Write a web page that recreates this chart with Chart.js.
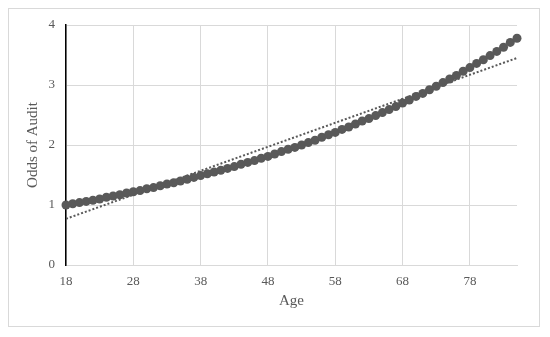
<!DOCTYPE html>
<html lang="en">
<head>
  <meta charset="UTF-8">
  <title>Odds of Audit by Age</title>
  <script src="https://cdn.jsdelivr.net/npm/chart.js"></script>
  <style>
    html, body { margin: 0; padding: 0; background: #fff; }
    #wrap { width: 550px; height: 337px; }
  </style>
</head>
<body>
  <div id="wrap"><canvas id="chart" width="550" height="337"></canvas></div>

  <script>
    // Ages 18..85, odds
    var ages = [18, 19, 20, 21, 22, 23, 24, 25, 26, 27, 28, 29, 30, 31, 32, 33, 34,
      35, 36, 37, 38, 39, 40, 41, 42, 43, 44, 45, 46, 47, 48, 49, 50, 51,
      52, 53, 54, 55, 56, 57, 58, 59, 60, 61, 62, 63, 64, 65, 66, 67, 68,
      69, 70, 71, 72, 73, 74, 75, 76, 77, 78, 79, 80, 81, 82, 83, 84, 85];
    var odds = [1.00, 1.02, 1.04, 1.06, 1.08, 1.10, 1.13, 1.15, 1.17, 1.20,
      1.22, 1.24, 1.27, 1.29, 1.32, 1.35, 1.37, 1.40, 1.43, 1.46,
      1.49, 1.52, 1.55, 1.58, 1.61, 1.64, 1.68, 1.71, 1.74, 1.78,
      1.81, 1.85, 1.89, 1.93, 1.96, 2.00, 2.04, 2.08, 2.13, 2.17,
      2.21, 2.26, 2.30, 2.35, 2.40, 2.44, 2.49, 2.54, 2.59, 2.64,
      2.70, 2.75, 2.81, 2.86, 2.92, 2.98, 3.04, 3.10, 3.16, 3.23,
      3.29, 3.36, 3.42, 3.49, 3.56, 3.63, 3.71, 3.78];

    // linear trendline end points
    var trendAges = [18, 85];
    var trendOdds = [0.77, 3.45];

    var xTicks = [18, 28, 38, 48, 58, 68, 78];
    var yTicks = [0, 1, 2, 3, 4];

    var gray = '#595959';
    var gridColor = '#d9d9d9';
    var serif = '"Liberation Serif", "Times New Roman", serif';

    // outer frame like the Excel chart area
    var framePlugin = {
      id: 'frame',
      beforeDraw: function(chart) {
        var ctx = chart.ctx;
        ctx.save();
        ctx.fillStyle = '#fff';
        ctx.fillRect(0, 0, chart.width, chart.height);
        ctx.strokeStyle = gridColor;
        ctx.lineWidth = 1;
        ctx.strokeRect(8.5, 8.5, 531, 318);
        ctx.restore();
      }
    };

    new Chart(document.getElementById('chart'), {
      type: 'scatter',
      data: {
        datasets: [
          {
            label: 'Trend',
            data: trendAges.map(function(a, i) { return { x: a, y: trendOdds[i] }; }),
            showLine: true,
            borderColor: gray,
            borderWidth: 2,
            borderDash: [2, 2],
            pointRadius: 0,
            order: 0
          },
          {
            label: 'Odds of Audit',
            data: ages.map(function(a, i) { return { x: a, y: odds[i] }; }),
            showLine: false,
            backgroundColor: gray,
            borderColor: gray,
            pointRadius: 4.5,
            borderWidth: 0,
            clip: false,
            order: 1
          }
        ]
      },
      options: {
        responsive: false,
        animation: false,
        layout: { padding: { left: 20, right: 33, top: 25, bottom: 27 } },
        plugins: {
          legend: { display: false },
          tooltip: { enabled: false }
        },
        scales: {
          x: {
            type: 'linear',
            min: 18,
            max: 85,
            afterBuildTicks: function(scale) {
              scale.ticks = xTicks.map(function(v) { return { value: v }; });
            },
            afterFit: function(scale) { scale.height = 45; },
            grid: { color: gridColor, lineWidth: 1, drawTicks: false },
            border: { color: gridColor, width: 1 },
            ticks: {
              color: gray,
              padding: 9,
              maxRotation: 0,
              font: { family: serif, size: 13 }
            },
            title: {
              display: true,
              text: 'Age',
              color: gray,
              padding: { top: 0, bottom: 0 },
              font: { family: serif, size: 15 }
            }
          },
          y: {
            min: 0,
            max: 4,
            afterBuildTicks: function(scale) {
              scale.ticks = yTicks.map(function(v) { return { value: v }; });
            },
            afterFit: function(scale) { scale.width = 46; },
            grid: { color: gridColor, lineWidth: 1, drawTicks: false },
            border: { color: '#000', width: 1.5 },
            ticks: {
              color: gray,
              padding: 11,
              font: { family: serif, size: 13 }
            },
            title: {
              display: true,
              text: 'Odds of Audit',
              color: gray,
              padding: { top: 4, bottom: 0 },
              font: { family: serif, size: 15 }
            }
          }
        }
      },
      plugins: [framePlugin]
    });
  </script>
</body>
</html>
